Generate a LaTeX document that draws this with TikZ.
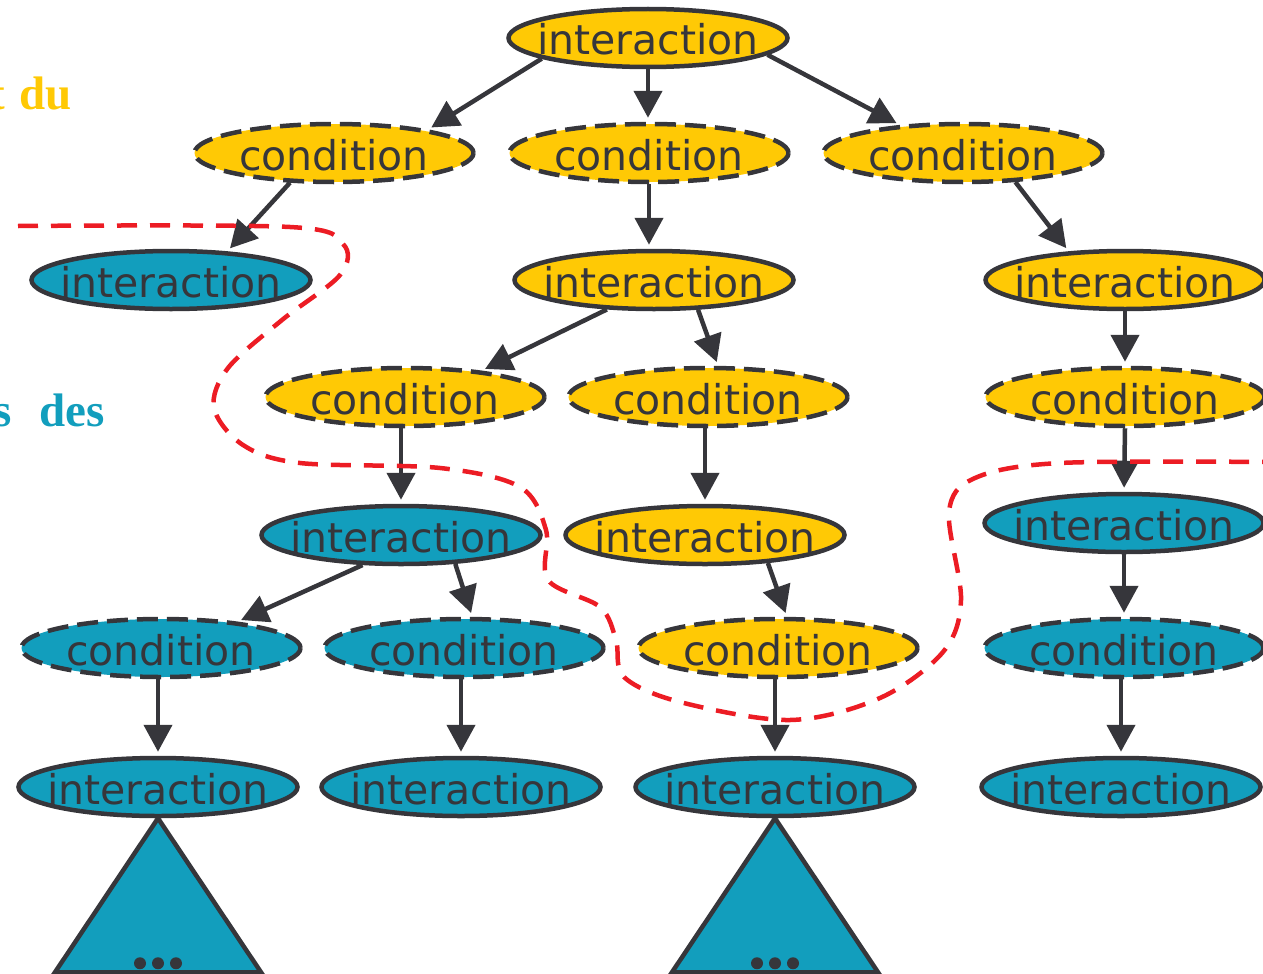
\documentclass[tikz,border=0pt]{standalone}
\usepackage{fontspec}
\setmainfont{Liberation Serif}
\newfontfamily\labelfont{DejaVu Sans}
\usetikzlibrary{shapes.geometric,arrows.meta}
\definecolor{ink}{HTML}{36363B}
\definecolor{gold}{HTML}{FFC905}
\definecolor{sea}{HTML}{129EBD}
\definecolor{cut}{HTML}{EC1C24}
% label text: zero width, baseline pushed below the centre
\newcommand\ntxt[1]{\makebox[0pt]{\raisebox{-17pt}[0pt][0pt]{#1}}}
\begin{document}
\begin{tikzpicture}[x=1pt,y=-1pt,
  box/.style={ellipse, draw=ink, line width=4.5pt, minimum width=279pt,
    minimum height=58pt, inner sep=0pt, text height=0pt, text depth=0pt,
    font=\labelfont\fontsize{41}{41}\selectfont, text=ink},
  cnd/.style={dash pattern=on 21pt off 9pt},
  yel/.style={fill=gold},
  blu/.style={fill=sea},
  arr/.style={draw=ink, line width=4.5pt, -{Triangle[length=27pt,width=28pt]},
    shorten >=4pt},
  side/.style={inner sep=0pt, anchor=base east,
    font=\bfseries\fontsize{47}{47}\selectfont},
  tri/.style={draw=ink, fill=sea, line width=4.5pt, line join=miter}]
\useasboundingbox (0,0) rectangle (1263,974);
\clip (0,0) rectangle (1263,974);

% side captions
\node[side, text=gold] (k1) at (72,109) {t\hspace{14pt}du};
\node[side, text=sea] (k2) at (105,426) {s\hspace{28pt}des};

% tree nodes
\node[box,yel] (t0) at (648,38) {\ntxt{interaction}};
\node[box,cnd,yel] (c1) at (334,153) {\ntxt{condition}};
\node[box,cnd,yel] (c2) at (649,153) {\ntxt{condition}};
\node[box,cnd,yel] (c3) at (963,153) {\ntxt{condition}};
\node[box,blu] (iL) at (171,280) {\ntxt{interaction}};
\node[box,yel] (i2) at (654,280) {\ntxt{interaction}};
\node[box,yel] (iR) at (1125,280) {\ntxt{interaction}};
\node[box,cnd,yel] (c4) at (405,397) {\ntxt{condition}};
\node[box,cnd,yel] (c5) at (708,397) {\ntxt{condition}};
\node[box,cnd,yel] (cR) at (1125,397) {\ntxt{condition}};
\node[box,blu] (b1) at (401,535) {\ntxt{interaction}};
\node[box,yel] (y5) at (705,535) {\ntxt{interaction}};
\node[box,blu] (bR) at (1124,523) {\ntxt{interaction}};
\node[box,cnd,blu] (d1) at (161,648) {\ntxt{condition}};
\node[box,cnd,blu] (d2) at (464,648) {\ntxt{condition}};
\node[box,cnd,yel] (d3) at (778,648) {\ntxt{condition}};
\node[box,cnd,blu] (dR) at (1124,648) {\ntxt{condition}};
\node[box,blu] (e1) at (158,787) {\ntxt{interaction}};
\node[box,blu] (e2) at (461,787) {\ntxt{interaction}};
\node[box,blu] (e3) at (775,787) {\ntxt{interaction}};
\node[box,blu] (eR) at (1121,787) {\ntxt{interaction}};

% edges
\draw[arr] (t0.191) -- (c1.14);
\draw[arr] (t0.south) -- (t0.south |- c2.north);
\draw[arr] (t0.-8) -- (c3.156);
\draw[arr] (c1.214) -- (iL.27);
\draw[arr] (c2.south) -- (c2.south |- i2.north);
\draw[arr] (c3.-29) -- (iR.153);
\draw[arr] (i2.212) -- (c4.19);
\draw[arr] (i2.-34) -- (c5.72);
\draw[arr] (iR.south) -- (cR.north);
\draw[arr] (c4.south -| b1) -- (b1.north);
\draw[arr] (c5.south -| y5) -- (y5.north);
\draw[arr] (cR.south) -- (bR.north);
\draw[arr] (b1.218) -- (d1.19);
\draw[arr] (b1.-28) -- (d2.75);
\draw[arr] (y5.-24) -- (d3.74);
\draw[arr] (bR.south) -- (dR.north);
\draw[arr] (d1.south -| e1) -- (e1.north);
\draw[arr] (d2.south -| e2) -- (e2.north);
\draw[arr] (d3.south -| e3) -- (e3.north);
\draw[arr] (dR.south -| eR) -- (eR.north);

% collapsed subtrees
\draw[tri] (e1.south) -- ++(-103,154) -- ++(206,0) -- cycle;
\draw[tri] (e3.south) -- ++(-103,154) -- ++(206,0) -- cycle;
\foreach \n in {e1,e3}{
  \foreach \dx in {-18,0,18}{
    \fill[ink] ([xshift=\dx pt,yshift=-145pt]\n.south) circle (6pt);
  }
}

% dashed cut line
\draw[cut, line width=4.5pt, dash pattern=on 20pt off 13pt]
  plot[smooth, tension=0.55] coordinates {
    (18,226) (290,227) (343,244) (340,275) (282,320) (228,368) (214,408)
    (243,445) (300,463) (440,468) (520,487) (546,530) (548,580) (600,607)
    (616,640) (624,677) (680,702) (790,720) (880,698) (943,652) (961,600)
    (949,512) (975,478) (1060,463) (1270,462)};
\end{tikzpicture}
\end{document}
